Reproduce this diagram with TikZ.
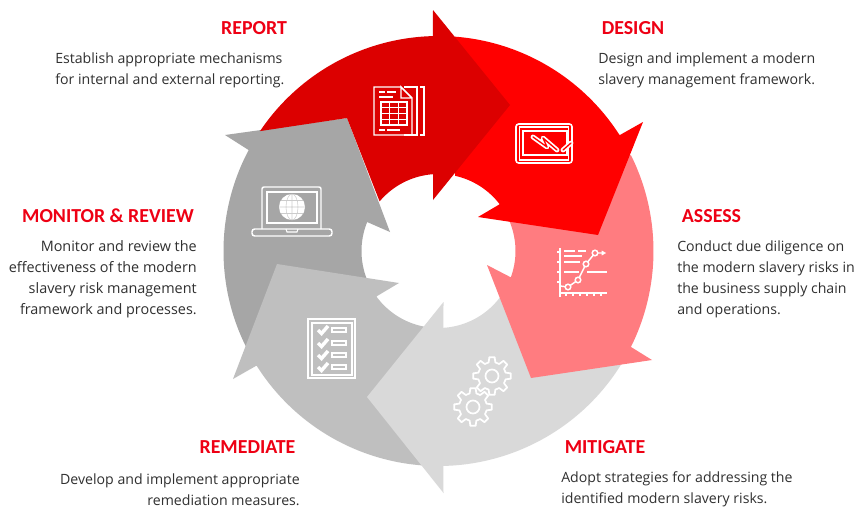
\documentclass[tikz,border=0pt]{standalone}
\usepackage{fontspec}
\setmainfont{Open Sans}
\newfontfamily\headfont{Carlito}
\usetikzlibrary{calc}
\definecolor{txt}{HTML}{303030}
\definecolor{hd}{HTML}{EE0014}
\newcommand{\arcp}[3]{arc[start angle=-#1,end angle=-#2,radius=#3]}
\tikzset{
  ico/.style={draw=white,line width=1.1pt,line join=miter},
  head/.style={inner sep=0pt,text=hd,font=\headfont\bfseries\fontsize{14.9}{16}\selectfont},
  bodyl/.style={inner sep=0pt,text=txt,align=left,anchor=west,font=\fontsize{10.6}{15.7}\selectfont},
  bodyr/.style={inner sep=0pt,text=txt,align=right,anchor=east,font=\fontsize{10.6}{15.7}\selectfont},
}
\begin{document}
\begin{tikzpicture}[x=.75pt,y=.75pt,yscale=-1]
\useasboundingbox (0,0) rectangle (857,508);
\fill[white] (0,0) rectangle (857,508);
\coordinate (c) at (438.5,251);
% monitor
\fill[fill={rgb,255:red,166;green,166;blue,166}] ($(c)+(-152:215)$) \arcp{152}{208}{215} -- ($(c)+(-205:77)$) \arcp{205}{157.9}{77} -- (390,232) -- (347,118) -- (225,135) -- cycle;
% remediate
\fill[fill={rgb,255:red,191;green,191;blue,191}] (277,264) -- (399,283) -- ($(c)+(-216.2:77)$) \arcp{216.2}{265}{77} -- ($(c)+(-268:215)$) \arcp{268}{212.2}{215} -- (233,379) -- cycle;
% mitigate
\fill[fill={rgb,255:red,217;green,217;blue,217}] (367,397) -- (443.5,302) -- ($(c)+(-273.7:77)$) \arcp{273.7}{330}{77} -- ($(c)+(-330:215)$) \arcp{330}{271.3}{215} -- (443.5,493) -- cycle;
% assess
\fill[fill={rgb,255:red,255;green,124;blue,128}] ($(c)+(-26.5:215)$) \arcp{26.5}{-26.5}{215} -- (652,360) -- (531,378) -- (487,265) -- ($(c)+(20:77)$) \arcp{-20}{30}{77} -- cycle;
% design
\fill[fill={rgb,255:red,255;green,0;blue,0}] ($(c)+(-85.6:215)$) \arcp{85.6}{32.6}{215} -- (643,122) -- (598,235) -- (478,217) -- ($(c)+(-37.4:77)$) \arcp{37.4}{77.6}{77} -- cycle;
% report
\fill[fill={rgb,255:red,220;green,0;blue,0}] ($(c)+(-146.1:215)$) \arcp{146.1}{91.5}{215} -- (433,10) -- (510,105) -- (433,200) -- ($(c)+(-94.1:77)$) \arcp{94.1}{139.9}{77} -- (347,118) -- cycle;

% report icon
\draw[ico] (401,87) -- (374,87) -- (374,135) -- (412,135) -- (412,98) -- (401,87) -- (401,98) -- (412,98);
\draw[ico] (404,87) -- (417,87) -- (417,135) -- (404,135);
\draw[ico] (420,87) -- (424,87) -- (424,135) -- (420,135);
\draw[ico] (381,102) rectangle (407,125);
\draw[ico] (389.7,102) -- (389.7,125) (398.3,102) -- (398.3,125) (381,107.75) -- (407,107.75) (381,113.5) -- (407,113.5) (381,119.25) -- (407,119.25);
\draw[ico] (379,92) -- (385,92) (387,92) -- (396,92) (379,97) -- (393,97) (379,130) -- (385,130) (387,130) -- (400,130);
% design icon
\draw[ico,line width=1.2pt,rounded corners=2pt] (516,124) rectangle (572,163);
\draw[ico,line width=.8pt] (519.5,127) rectangle (568.5,160);
\draw[ico] (523,131) rectangle (567,155);
\draw[white,line width=3.6pt,line join=round,line cap=round] (533,137) -- (547,147) -- (543,138) -- (557,150);
\draw[red,line width=1pt,line join=round,line cap=round] (533,137) -- (547,147) -- (543,138) -- (557,150);
\draw[white,line width=3.6pt,line cap=round] (563,150) -- (571,143);
\draw[red,line width=1pt,line cap=round] (563,150) -- (571,143);
% assess icon
\draw[ico] (560,248) -- (560,297) (559,293) -- (607,293);
\draw[ico,line width=.8pt] (557,252) -- (560,252) (557,262) -- (560,262) (557,272) -- (560,272) (557,282) -- (560,282) (566,293) -- (566,296) (573,293) -- (573,296) (580,293) -- (580,296) (587,293) -- (587,296) (594,293) -- (594,296) (601,293) -- (601,296);
\draw[ico] (564,251) -- (575,251) (578,251) -- (586,251) (564,256) -- (582,256) (564,262) -- (580,262) (564,272) -- (579,272) (587,272) -- (607,272);
\draw[ico] (560,286) -- (568,287) -- (578,280) -- (586,264) -- (595,253) -- (603,253);
\draw[white,fill=white] (602,251) -- (605.5,253) -- (602,255) -- cycle;
\foreach \px/\py in {568/287,578/280,586/264,595/253} \draw[ico,fill={rgb,255:red,255;green,124;blue,128}] (\px,\py) circle (2.8);
% gears
\foreach \gx/\gy in {492/376,473/407}{
\begin{scope}[shift={(\gx,\gy)}]
\draw[ico,line width=1.3pt,line join=round] (-14:14) \foreach \i in {0,...,7}{ -- ({\i*45-14}:14) -- ({\i*45-8}:19) -- ({\i*45+8}:19) -- ({\i*45+14}:14) } -- cycle;
\draw[ico,line width=1.3pt] (0,0) circle (6.5);
\end{scope}}
% checklist icon
\draw[ico,line width=1.2pt] (308,319) rectangle (355,378);
\draw[ico] (312,323) rectangle (352,375);
\foreach \yy in {330,343,355,367}{
\draw[white,line width=2.6pt] (318,\yy) -- (321.5,\yy+3.5) -- (328,\yy-4);
\draw[ico,line width=.8pt] (332,\yy-2) rectangle (346,\yy+2);
}
% laptop icon
\draw[ico,rounded corners=1.5pt] (262,229) -- (262,187) -- (321,187) -- (321,229);
\draw[ico] (267,192) rectangle (317,223);
\draw[ico,rounded corners=2pt] (252,229) -- (332,229) -- (332,236) -- (252,236) -- cycle;
\draw[ico,line width=.8pt] (286,229) -- (287,232) -- (297,232) -- (298,229);
\fill[white] (292,207) circle (13);
\draw[black!20,line width=.4pt] (292,207) ellipse (6 and 13) (292,194) -- (292,220) (279,207) -- (305,207) (281,200.5) -- (303,200.5) (281,213.5) -- (303,213.5);

% labels
\node[head] (h1) at (254,28) {REPORT};
\node[bodyl] (b1) at (55,70) {Establish appropriate mechanisms\\for internal and external reporting.};
\node[head] (h2) at (633,28) {DESIGN};
\node[bodyl] (b2) at (598,70) {Design and implement a modern\\slavery management framework.};
\node[head] (h3) at (711.5,216) {ASSESS};
\node[bodyl] (b3) at (677,279) {Conduct due diligence on\\the modern slavery risks in\\the business supply chain\\and operations.};
\node[head] (h4) at (108,216) {MONITOR \& REVIEW};
\node[bodyr,font=\fontsize{10.8}{15.7}\selectfont] (b4) at (197,279) {Monitor and review the\\effectiveness of the modern\\slavery risk management\\framework and processes.};
\node[head] (h5) at (247.5,447) {REMEDIATE};
\node[bodyr] (b5) at (300,489.5) {Develop and implement appropriate\\remediation measures.};
\node[head] (h6) at (605,447) {MITIGATE};
\node[bodyl] (b6) at (561,489.5) {Adopt strategies for addressing the\\identified modern slavery risks.};
\end{tikzpicture}
\end{document}
